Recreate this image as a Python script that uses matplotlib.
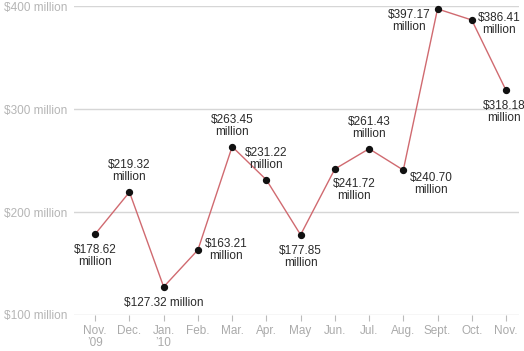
import matplotlib
matplotlib.use('Agg')
import matplotlib.pyplot as plt
import numpy as np

plt.rcParams['font.family'] = ['Liberation Sans', 'DejaVu Sans']

# Monthly values (millions of dollars)
months = ['Nov.\n\u201909', 'Dec.', 'Jan.\n\u201910', 'Feb.', 'Mar.', 'Apr.', 'May',
          'Jun.', 'Jul.', 'Aug.', 'Sept.', 'Oct.', 'Nov.']
values = [178.62, 219.32, 127.32, 163.21, 263.45, 231.22, 177.85,
          241.72, 261.43, 240.70, 397.17, 386.41, 318.18]
yticks = [100, 200, 300, 400]

# label placement: (dx, dy) in pixels, ha, va, two-line?
placement = [
    (0, -10, 'center', 'top', True),
    (0, 9, 'center', 'bottom', True),
    (0, -10, 'center', 'top', False),
    (7, 0, 'left', 'center', True),
    (0, 9, 'center', 'bottom', True),
    (0, 9, 'center', 'bottom', True),
    (0, -10, 'center', 'top', True),
    (19, -9, 'center', 'top', True),
    (0, 9, 'center', 'bottom', True),
    (28, -2, 'center', 'top', True),
    (-7, 0, 'right', 'top', True),
    (6, 8, 'left', 'top', True),
    (-2, -10, 'center', 'top', True),
]

x = np.arange(len(values))

fig = plt.figure(figsize=(5.24, 3.51), dpi=100)
ax = fig.add_axes([74 / 524, 1 - 315 / 351, 445 / 524, 309 / 351])

for y in yticks:
    ax.axhline(y, color='#d6d6d6', lw=1, zorder=0)

ax.plot(x, values, color='#d06a70', lw=1, zorder=2, clip_on=False)
ax.scatter(x, values, s=18, color='#111111', zorder=3, clip_on=False)

for i, v in enumerate(values):
    dx, dy, ha, va, two = placement[i]
    txt = '${:.2f}\nmillion'.format(v) if two else '${:.2f} million'.format(v)
    ax.annotate(txt, (x[i], v), xytext=(dx, dy), textcoords='offset pixels',
                ha=ha, va=va, fontsize=8.5, color='#2a2a2a', linespacing=1.0,
                multialignment='center', annotation_clip=False)

ax.set_xlim(-0.62, 12.38)
ax.set_ylim(100, 400)
ax.set_xticks(x)
ax.set_xticklabels(months, fontsize=8.5, color='#aaaaaa', linespacing=1.05)
ax.set_yticks(yticks)
ax.set_yticklabels(['${} million'.format(t) for t in yticks], fontsize=8.5, color='#b5b5b5')
ax.tick_params(axis='x', length=4, color='#bbbbbb', pad=3)
ax.tick_params(axis='y', length=0, pad=5)
for s in ax.spines.values():
    s.set_visible(False)
ax.patch.set_alpha(0)

fig.savefig('out.png', dpi=100)
